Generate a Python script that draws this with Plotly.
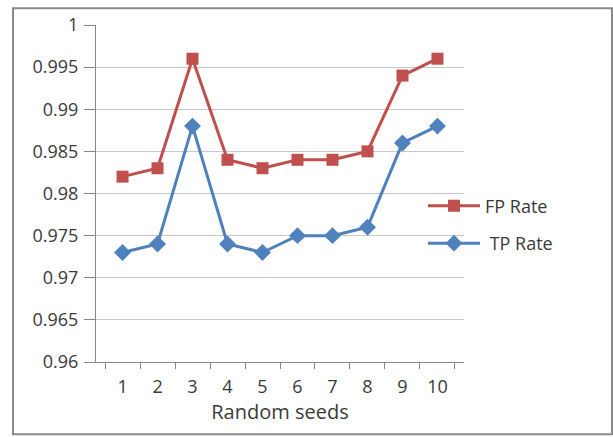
import plotly.graph_objects as go

seeds = ["1", "2", "3", "4", "5", "6", "7", "8", "9", "10"]
fp_rate = [0.982, 0.983, 0.996, 0.984, 0.983, 0.984, 0.984, 0.985, 0.994, 0.996]
tp_rate = [0.973, 0.974, 0.988, 0.974, 0.973, 0.975, 0.975, 0.976, 0.986, 0.988]
y_ticks = [0.96, 0.965, 0.97, 0.975, 0.98, 0.985, 0.99, 0.995, 1]
y_labels = ["0.96", "0.965", "0.97", "0.975", "0.98", "0.985", "0.99", "0.995", "1"]

W, H = 613, 437
L, R, T, B = 96, 464, 22, 362
pw, ph = R - L, B - T

def px(x):
    return (x - L) / pw

def py(y):
    return (B - y) / ph

font = "Open Sans, Lato, sans-serif"
txt = "#3a3a3a"

fig = go.Figure()
fig.add_trace(go.Scatter(
    x=seeds, y=fp_rate, name="FP Rate", mode="lines+markers",
    line=dict(color="#C0504D", width=3),
    marker=dict(symbol="square", size=12, color="#C0504D"),
    legendgroup="fp",
))
fig.add_trace(go.Scatter(
    x=seeds, y=tp_rate, name=" TP Rate", mode="lines+markers",
    line=dict(color="#4F81BD", width=3),
    marker=dict(symbol="diamond", size=13, color="#4F81BD"),
    legendgroup="tp",
))

fig.update_layout(
    width=W, height=H,
    margin=dict(l=L, r=W - R, t=T, b=H - B),
    paper_bgcolor="white", plot_bgcolor="white",
    font=dict(family=font, size=18, color=txt),
    showlegend=True,
    legend=dict(x=px(423), y=py(186), xanchor="left", yanchor="top",
                bgcolor="rgba(0,0,0,0)", tracegroupgap=11, itemwidth=52,
                font=dict(size=18, color=txt)),
    xaxis=dict(
        type="category", tickson="boundaries", ticks="outside", ticklen=6,
        tickcolor="#888888", showline=True, linecolor="#888888", linewidth=1,
        showgrid=False, tickfont=dict(size=18, color=txt), ticklabelstandoff=8,
        title=dict(text="Random seeds", font=dict(size=20, color=txt), standoff=6),
    ),
    yaxis=dict(
        range=[0.96, 1.0], tickvals=y_ticks, ticktext=y_labels,
        ticks="outside", ticklen=11, tickcolor="#888888",
        showline=True, linecolor="#888888", linewidth=1,
        showgrid=True, gridcolor="#c8c8c8", gridwidth=1,
        tickfont=dict(size=18, color=txt), ticklabelstandoff=2, zeroline=False,
    ),
    shapes=[dict(
        type="rect", xref="paper", yref="paper",
        x0=px(13), x1=px(612), y0=py(435), y1=py(5),
        line=dict(color="#8a8a8a", width=2), fillcolor="rgba(0,0,0,0)", layer="below",
    )],
)

fig.write_html("out.html", config={"displayModeBar": False},
               post_script="document.body.style.margin='0px';")
